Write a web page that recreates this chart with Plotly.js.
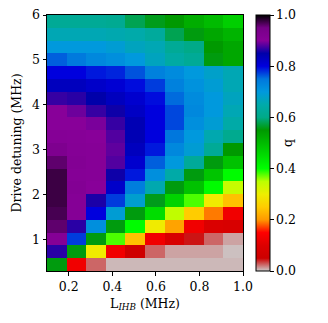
<!DOCTYPE html>
<html>
<head>
<meta charset="utf-8">
<script src="https://cdn.plot.ly/plotly-3.0.1.min.js"></script>
<style>
  html, body { margin: 0; padding: 0; background: #fff; }
  #graph { width: 328px; height: 323px; }
</style>
</head>
<body>
<div id="graph"></div>
<script>
// cell edges (imshow-like extent)
var xEdges = [0.1, 0.19, 0.28, 0.37, 0.46, 0.55, 0.64, 0.73, 0.82, 0.91, 1.0];
var yEdges = [0.3, 0.585, 0.87, 1.155, 1.44, 1.725, 2.01, 2.295, 2.58, 2.865, 3.15,
              3.435, 3.72, 4.005, 4.29, 4.575, 4.86, 5.145, 5.43, 5.715, 6.0];

// q values, bottom row first
var q = [
  [0.555, 0.13, 0.025, 0.005, 0.005, 0.005, 0.005, 0.005, 0.005, 0.005],
  [0.865, 0.555, 0.295, 0.13, 0.06, 0.025, 0.01, 0.01, 0.01, 0.003],
  [0.91, 0.775, 0.555, 0.38, 0.24, 0.13, 0.085, 0.045, 0.025, 0.01],
  [0.96, 0.865, 0.715, 0.555, 0.405, 0.295, 0.21, 0.13, 0.09, 0.085],
  [0.97, 0.91, 0.80, 0.69, 0.555, 0.45, 0.345, 0.25, 0.19, 0.13],
  [0.975, 0.91, 0.86, 0.775, 0.685, 0.56, 0.465, 0.38, 0.295, 0.24],
  [0.975, 0.915, 0.90, 0.82, 0.74, 0.655, 0.555, 0.49, 0.405, 0.34],
  [0.975, 0.91, 0.905, 0.855, 0.79, 0.715, 0.645, 0.555, 0.485, 0.405],
  [0.96, 0.915, 0.905, 0.88, 0.815, 0.76, 0.70, 0.625, 0.555, 0.49],
  [0.93, 0.91, 0.905, 0.885, 0.83, 0.79, 0.725, 0.69, 0.62, 0.55],
  [0.91, 0.905, 0.90, 0.88, 0.84, 0.80, 0.75, 0.70, 0.655, 0.61],
  [0.90, 0.90, 0.895, 0.87, 0.84, 0.80, 0.77, 0.715, 0.69, 0.645],
  [0.90, 0.89, 0.87, 0.855, 0.825, 0.80, 0.77, 0.725, 0.70, 0.66],
  [0.87, 0.865, 0.85, 0.83, 0.815, 0.795, 0.755, 0.72, 0.70, 0.67],
  [0.83, 0.83, 0.82, 0.81, 0.795, 0.775, 0.735, 0.71, 0.69, 0.66],
  [0.80, 0.80, 0.79, 0.785, 0.765, 0.735, 0.72, 0.70, 0.68, 0.66],
  [0.76, 0.745, 0.725, 0.715, 0.70, 0.67, 0.64, 0.62, 0.555, 0.53],
  [0.70, 0.70, 0.70, 0.69, 0.67, 0.66, 0.62, 0.60, 0.55, 0.53],
  [0.66, 0.66, 0.66, 0.655, 0.65, 0.63, 0.58, 0.555, 0.53, 0.51],
  [0.62, 0.62, 0.62, 0.615, 0.58, 0.56, 0.55, 0.52, 0.50, 0.47]
];

var xTicks = [0.2, 0.4, 0.6, 0.8, 1.0];
var yTicks = [1, 2, 3, 4, 5, 6];
var cbTicks = [0.0, 0.2, 0.4, 0.6, 0.8, 1.0];

// nipy_spectral, reversed (0 = grey, 1 = black)
var spectral = [
  [0.0, 'rgb(0,0,0)'], [0.05, 'rgb(119,0,136)'], [0.10, 'rgb(136,0,153)'],
  [0.15, 'rgb(0,0,170)'], [0.20, 'rgb(0,0,221)'], [0.25, 'rgb(0,119,221)'],
  [0.30, 'rgb(0,153,221)'], [0.35, 'rgb(0,170,170)'], [0.40, 'rgb(0,170,136)'],
  [0.45, 'rgb(0,153,0)'], [0.50, 'rgb(0,187,0)'], [0.55, 'rgb(0,221,0)'],
  [0.60, 'rgb(0,255,0)'], [0.65, 'rgb(187,255,0)'], [0.70, 'rgb(238,238,0)'],
  [0.75, 'rgb(255,204,0)'], [0.80, 'rgb(255,153,0)'], [0.85, 'rgb(255,0,0)'],
  [0.90, 'rgb(221,0,0)'], [0.95, 'rgb(204,0,0)'], [1.0, 'rgb(204,204,204)']
];
var cscale = [];
for (var i = spectral.length - 1; i >= 0; i--) {
  cscale.push([+(1 - spectral[i][0]).toFixed(2), spectral[i][1]]);
}

var font = {family: 'DejaVu Serif', size: 12.5, color: '#000'};

var data = {
  type: 'heatmap',
  x: xEdges,
  y: yEdges,
  z: q,
  zmin: 0,
  zmax: 1,
  colorscale: cscale,
  hoverinfo: 'none',
  colorbar: {
    x: 1.066, xanchor: 'left', xpad: 0,
    y: 0, yanchor: 'bottom', ypad: 0,
    len: 1, lenmode: 'fraction',
    thickness: 14, thicknessmode: 'pixels',
    outlinewidth: 1, outlinecolor: '#000',
    tickvals: cbTicks, tickformat: '.1f',
    ticks: 'outside', ticklen: 3.5, tickwidth: 1, tickcolor: '#000',
    tickfont: font,
    title: {text: 'q', side: 'right', font: font}
  }
};

var layout = {
  width: 328,
  height: 323,
  margin: {l: 47, r: 85, t: 15, b: 52},
  paper_bgcolor: '#fff',
  plot_bgcolor: '#fff',
  font: font,
  xaxis: {
    range: [0.1, 1.0],
    tickvals: xTicks, tickformat: '.1f',
    ticks: 'outside', ticklen: 3.5, tickwidth: 1, tickcolor: '#000',
    showline: true, linecolor: '#000', linewidth: 1, mirror: true,
    showgrid: false, zeroline: false,
    tickfont: font,
    title: {text: 'L<sub><i>IHB</i></sub> (MHz)', standoff: 6, font: font}
  },
  yaxis: {
    range: [0.3, 6.0],
    tickvals: yTicks,
    ticks: 'outside', ticklen: 3.5, tickwidth: 1, tickcolor: '#000',
    showline: true, linecolor: '#000', linewidth: 1, mirror: true,
    showgrid: false, zeroline: false,
    tickfont: font,
    title: {text: 'Drive detuning (MHz)', standoff: 7, font: font}
  }
};

Plotly.newPlot('graph', [data], layout, {displayModeBar: false, staticPlot: true});
</script>
</body>
</html>
